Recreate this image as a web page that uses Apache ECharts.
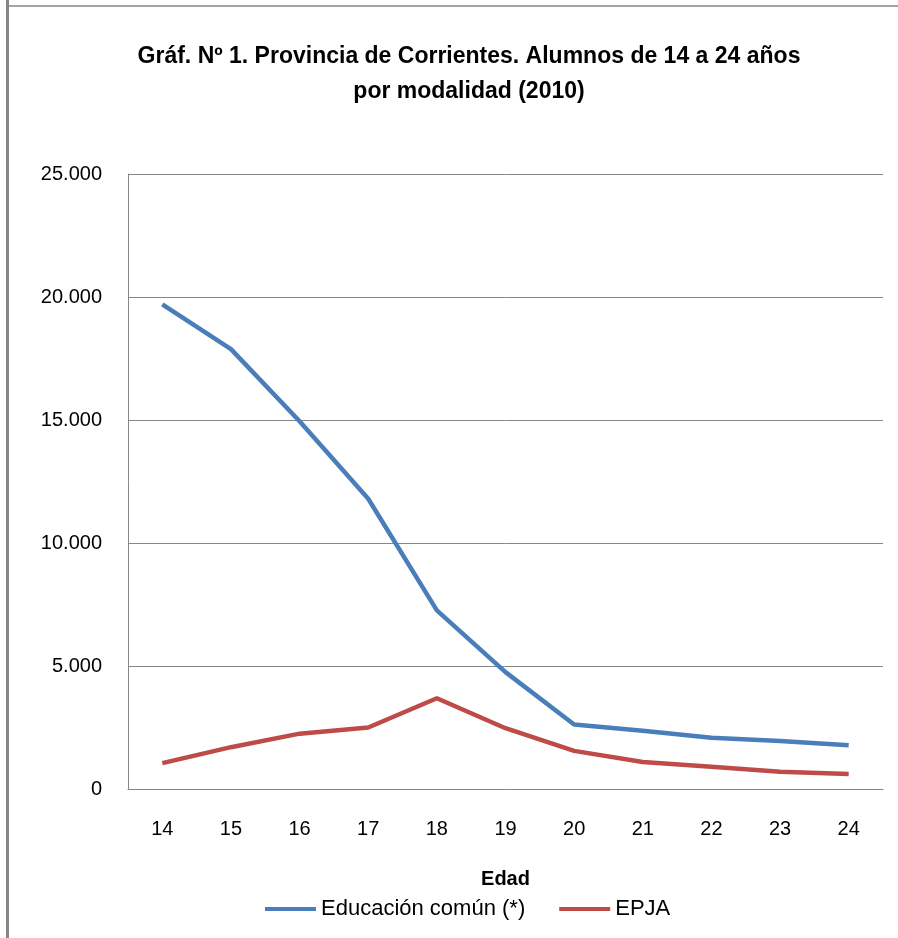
<!DOCTYPE html>
<html>
<head>
<meta charset="utf-8">
<script src="https://cdn.jsdelivr.net/npm/echarts@6/dist/echarts.min.js"></script>
<style>
  html, body { margin: 0; padding: 0; background: #fff; }
  #chart { width: 898px; height: 938px; }
</style>
</head>
<body>
<div id="chart"></div>
<script>
// edades (categorías del eje X)
const edades = ["14", "15", "16", "17", "18", "19", "20", "21", "22", "23", "24"];
// alumnos por modalidad
const educacionComun = [19700, 17880, 14950, 11800, 7260, 4750, 2620, 2370, 2080, 1950, 1780];
const epja = [1050, 1700, 2250, 2500, 3690, 2470, 1550, 1100, 900, 700, 610];

const FONT = "'Liberation Sans', Arial, sans-serif";

const chart = echarts.init(document.getElementById("chart"));

const fmt = (v) => v === 0 ? "0" : String(v).replace(/\B(?=(\d{3})+(?!\d))/g, ".");

chart.setOption({
  animation: false,
  backgroundColor: "#fff",
  textStyle: { fontFamily: FONT, color: "#000" },
  title: {
    text: "Gráf. Nº 1. Provincia de Corrientes. Alumnos de 14 a 24 años\npor modalidad (2010)",
    left: 464,
    top: 34,
    textAlign: "center",
    textStyle: { fontFamily: FONT, fontSize: 23, fontWeight: "bold", color: "#000", lineHeight: 35 },
  },
  grid: { left: 128, right: 15, top: 174, bottom: 149 },
  legend: {
    bottom: 13,
    left: 260,
    itemWidth: 51,
    itemHeight: 4,
    itemGap: 34,
    icon: "rect",
    textStyle: { fontFamily: FONT, fontSize: 22, color: "#000", padding: [0, 0, 0, 0] },
    data: ["Educación común (*)", "EPJA"],
  },
  xAxis: {
    type: "category",
    data: edades,
    name: "Edad",
    nameLocation: "middle",
    nameGap: 80,
    nameTextStyle: { fontFamily: FONT, fontSize: 20, fontWeight: "bold", color: "#000" },
    axisLine: { lineStyle: { color: "#868686", width: 1 } },
    axisTick: { show: false },
    axisLabel: { fontFamily: FONT, fontSize: 20, color: "#000", margin: 30 },
  },
  yAxis: {
    type: "value",
    min: 0,
    max: 25000,
    interval: 5000,
    axisLine: { show: true, lineStyle: { color: "#868686", width: 1 } },
    axisTick: { show: false },
    splitLine: { lineStyle: { color: "#868686", width: 1 } },
    axisLabel: { fontFamily: FONT, fontSize: 20, color: "#000", margin: 26, formatter: fmt },
  },
  series: [
    {
      name: "Educación común (*)",
      type: "line",
      data: educacionComun,
      symbol: "none",
      lineStyle: { color: "#4a7ebb", width: 4.5 },
      itemStyle: { color: "#4a7ebb" },
    },
    {
      name: "EPJA",
      type: "line",
      data: epja,
      symbol: "none",
      lineStyle: { color: "#be4b48", width: 4.5 },
      itemStyle: { color: "#be4b48" },
    },
  ],
  graphic: [
    { type: "line", shape: { x1: 7.5, y1: 0, x2: 7.5, y2: 938 }, style: { stroke: "#868686", lineWidth: 3 } },
    { type: "line", shape: { x1: 6, y1: 6, x2: 898, y2: 6 }, style: { stroke: "#868686", lineWidth: 1.5 } },
  ],
});
</script>
</body>
</html>
